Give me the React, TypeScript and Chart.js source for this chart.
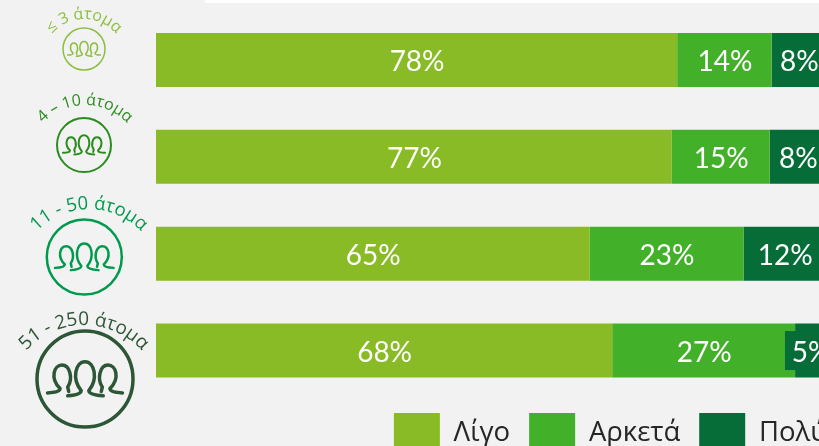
import React, { useEffect, useRef } from "react";
import { Chart, registerables } from "chart.js";

Chart.register(...registerables);

const categories = ["≤ 3 άτομα", "4 – 10 άτομα", "11 - 50 άτομα", "51 - 250 άτομα"];
const seriesNames = ["Λίγο", "Αρκετά", "Πολύ"];
const ligo = [77.8, 77, 64.7, 68.1];
const arketa = [14.1, 14.6, 23, 27.3];
const poly = [8.1, 8.4, 12.3, 4.6];
const seriesColors = ["#88BB25", "#43B02A", "#066D38"];

const iconStyles = [
  { cx: 84, cy: 49, r: 21, ring: 1.5, glyph: 1.5, color: "#8CBF3F", font: 16, arcX: 84, arcR: 42, arcCy: 61 },
  { cx: 84, cy: 145, r: 27, ring: 2, glyph: 2, color: "#2A8C1E", font: 16, arcX: 85, arcR: 58, arcCy: 163 },
  { cx: 84.3, cy: 257, r: 37.5, ring: 2.5, glyph: 2.5, color: "#009A4D", font: 18.5, arcX: 89, arcR: 72, arcCy: 281 },
  { cx: 85, cy: 379, r: 48, ring: 3.5, glyph: 3.5, color: "#2C5635", font: 19, arcX: 84, arcR: 78, arcCy: 403 },
];

function glyph(ctx: CanvasRenderingContext2D, cx: number, cy: number, r: number) {
  const X = (v: number) => cx + v * r;
  const Y = (v: number) => cy + v * r;
  const side = (s: number) => {
    ctx.moveTo(X(s * 0.78), Y(0.29));
    ctx.quadraticCurveTo(X(s * 0.52), Y(0.28), X(s * 0.52), Y(0.2));
    ctx.bezierCurveTo(X(s * 0.74), Y(-0.02), X(s * 0.64), Y(-0.29), X(s * 0.48), Y(-0.29));
    ctx.bezierCurveTo(X(s * 0.32), Y(-0.29), X(s * 0.24), Y(-0.02), X(s * 0.36), Y(0.17));
    ctx.lineTo(X(s * 0.34), Y(0.26));
  };
  ctx.beginPath();
  side(-1);
  side(1);
  ctx.moveTo(X(-0.36), Y(0.35));
  ctx.quadraticCurveTo(X(-0.08), Y(0.33), X(-0.08), Y(0.24));
  ctx.bezierCurveTo(X(-0.28), Y(0), X(-0.2), Y(-0.36), X(0), Y(-0.36));
  ctx.bezierCurveTo(X(0.2), Y(-0.36), X(0.28), Y(0), X(0.08), Y(0.24));
  ctx.quadraticCurveTo(X(0.08), Y(0.33), X(0.38), Y(0.35));
  ctx.stroke();
}

function arcText(ctx: CanvasRenderingContext2D, text: string, cx: number, cy: number, radius: number) {
  const chars = Array.from(text);
  const widths = chars.map((c) => ctx.measureText(c).width);
  const total = widths.reduce((a, b) => a + b, 0);
  let pos = -total / 2;
  chars.forEach((c, i) => {
    const w = widths[i];
    const ang = (pos + w / 2) / radius;
    ctx.save();
    ctx.translate(cx + Math.sin(ang) * radius, cy - Math.cos(ang) * radius);
    ctx.rotate(ang);
    ctx.textAlign = "center";
    ctx.textBaseline = "alphabetic";
    ctx.fillText(c, 0, 0);
    ctx.restore();
    pos += w;
  });
}

const decor = {
  id: "decor",
  beforeDraw(chart: any) {
    const { ctx, width, height } = chart;
    ctx.save();
    ctx.fillStyle = "#F2F2F2";
    ctx.fillRect(0, 0, width, height);
    ctx.fillStyle = "#FFFFFF";
    ctx.fillRect(205, 0, width - 205, 3);
    ctx.restore();
  },
  afterLayout(chart: any) {
    if (chart.legend) chart.legend.top -= 5;
  },
  afterDraw(chart: any) {
    const { ctx } = chart;
    chart.data.datasets.forEach((ds: any, di: number) => {
      chart.getDatasetMeta(di).data.forEach((bar: any, i: number) => {
        const v = ds.data[i];
        const x = (bar.x + bar.base) / 2;
        const y = bar.y;
        ctx.save();
        if (v <= 5) {
          ctx.fillStyle = seriesColors[di];
          ctx.fillRect(x - 25.5, y - 19.5, 51, 39);
        }
        ctx.font = '28px Lato, "Open Sans", sans-serif';
        ctx.fillStyle = "#FFFFFF";
        ctx.textAlign = "center";
        ctx.textBaseline = "middle";
        ctx.fillText(Math.round(v) + "%", x + 0.5, y + 2);
        ctx.restore();
      });
    });
    chart.data.labels.forEach((label: string, i: number) => {
      const s = iconStyles[i];
      ctx.save();
      ctx.strokeStyle = s.color;
      ctx.fillStyle = s.color;
      ctx.lineCap = "round";
      ctx.lineWidth = s.ring;
      ctx.beginPath();
      ctx.arc(s.cx, s.cy, s.r, 0, Math.PI * 2);
      ctx.stroke();
      ctx.lineWidth = s.glyph;
      glyph(ctx, s.cx, s.cy, s.r);
      ctx.font = `${s.font}px "Open Sans", sans-serif`;
      arcText(ctx, label, s.arcX, s.arcCy, s.arcR);
      ctx.restore();
    });
  },
};

export default function App() {
  const ref = useRef<HTMLCanvasElement>(null);
  useEffect(() => {
    document.body.style.margin = "0";
    document.body.style.overflow = "hidden";
    const values = [ligo, arketa, poly];
    const chart = new Chart(ref.current!, {
      type: "bar",
      data: {
        labels: categories,
        datasets: seriesNames.map((name, i) => ({
          label: name,
          data: values[i],
          backgroundColor: seriesColors[i],
          borderWidth: 0,
          barPercentage: 0.558,
          categoryPercentage: 1,
        })),
      },
      options: {
        indexAxis: "y",
        animation: false,
        responsive: false,
        layout: { padding: { left: 156, top: 11.5, right: 4, bottom: 0 } },
        scales: {
          x: { stacked: true, min: 0, max: 103, display: false },
          y: { stacked: true, display: false },
        },
        plugins: {
          tooltip: { enabled: false },
          legend: {
            position: "bottom",
            align: "end",
            labels: {
              boxWidth: 46,
              boxHeight: 40,
              padding: 19,
              color: "#262626",
              font: { size: 27.5, family: '"Open Sans", sans-serif' },
            },
          },
        },
      } as any,
      plugins: [decor],
    });
    return () => chart.destroy();
  }, []);
  return (
    <div style={{ width: 819, height: 446, overflow: "hidden", position: "relative" }}>
      <canvas ref={ref} width={850} height={468} style={{ display: "block" }} />
    </div>
  );
}
